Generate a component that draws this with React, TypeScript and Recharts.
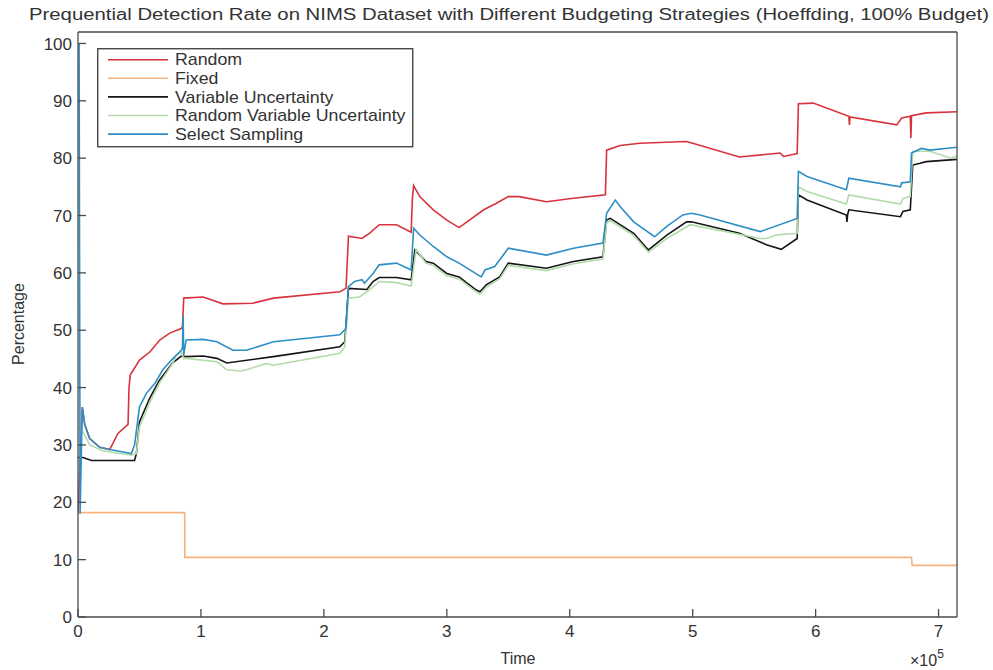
import { LineChart, Line, XAxis, YAxis, Legend, Label } from "recharts";

// time axis (samples) and detection rate (%) for each budgeting strategy
const randomTime = [
  0, 3500, 5500, 9500, 17700, 25800, 32500, 40700, 41500, 42500, 50000, 58400,
  66500, 74600, 84000, 85000, 86000, 101700, 118000, 142000, 159000, 213000,
  218000, 220000, 231000, 237000, 245000, 259000, 271000, 272000, 273000,
  278000, 289000, 300000, 310000, 330000, 340000, 350000, 359000, 381000,
  403000, 429000, 430000, 441000, 457000, 495000, 500000, 538000, 571000,
  574000, 585000, 586000, 598000, 627000, 627500, 628000, 666000, 670000,
  677000, 677500, 678000, 690000, 715000,
];
const randomRate = [
  18, 36.6, 33.5, 31.1, 29.6, 29.2, 32.0, 33.6, 40.0, 42.2, 44.8, 46.2, 48.3,
  49.5, 50.3, 50.6, 55.6, 55.8, 54.6, 54.7, 55.6, 56.7, 57.3, 66.4, 66.0, 66.9,
  68.4, 68.4, 67.1, 73.0, 75.2, 73.3, 71.0, 69.2, 67.9, 71.0, 72.1, 73.3, 73.3,
  72.4, 73.0, 73.6, 81.4, 82.2, 82.6, 82.9, 82.6, 80.2, 80.9, 80.3, 80.8, 89.5,
  89.6, 87.3, 85.8, 87.2, 85.8, 87.0, 87.3, 83.5, 87.4, 87.9, 88.1,
];

const fixedTime = [0, 86800, 86900, 678000, 678500, 715000];
const fixedRate = [18.2, 18.2, 10.4, 10.4, 9.0, 9.0];

const varTime = [
  0, 4000, 11000, 46000, 47500, 50000, 58000, 66000, 77000, 84000, 88000,
  102000, 113000, 121000, 159000, 213000, 217000, 220000, 235000, 240000,
  245000, 259000, 271000, 274000, 283000, 289000, 300000, 310000, 324000,
  327000, 332000, 343000, 350000, 381000, 403000, 427000, 430000, 433000,
  452000, 464000, 479000, 495000, 499000, 538000, 560000, 572000, 585000,
  586000, 593000, 625000, 625500, 626000, 627000, 669000, 671000, 677000,
  679000, 685000, 690000, 715000,
];
const varRate = [
  27.8, 27.8, 27.3, 27.3, 28.5, 34.0, 38.0, 41.2, 44.3, 45.5, 45.4, 45.5, 45.1,
  44.3, 45.4, 47.1, 48.0, 57.3, 57.1, 58.5, 59.2, 59.2, 58.8, 64.0, 62.0, 61.7,
  59.9, 59.3, 57.0, 56.7, 57.9, 59.3, 61.7, 60.8, 62.0, 62.8, 69.2, 69.5, 66.9,
  64.0, 66.6, 68.9, 68.9, 66.9, 64.9, 64.1, 66.0, 73.6, 72.7, 70.1, 68.9, 70.1,
  71.0, 69.8, 70.7, 71.0, 78.8, 79.1, 79.4, 79.8,
];

const randVarTime = [
  0, 4000, 9500, 20000, 43400, 47500, 50000, 58000, 66000, 77000, 80000, 84000,
  86000, 88000, 113000, 121000, 132000, 137000, 153000, 159000, 213000, 217000,
  220000, 229000, 237000, 245000, 259000, 271000, 275000, 283000, 289000,
  300000, 310000, 324000, 327000, 332000, 343000, 350000, 381000, 403000,
  427000, 430000, 433000, 452000, 464000, 479000, 498000, 555000, 560000,
  568000, 585000, 586000, 593000, 625000, 627000, 669000, 671000, 677000,
  679000, 693000, 710000, 715000,
];
const randVarRate = [
  33.0, 32.3, 30.0, 29.0, 28.2, 28.5, 33.2, 37.2, 40.7, 44.2, 45.7, 46.2, 45.0,
  45.1, 44.5, 43.1, 42.9, 43.1, 44.2, 43.9, 46.0, 47.1, 55.6, 55.8, 57.0, 58.5,
  58.3, 57.7, 64.1, 61.7, 61.3, 59.5, 58.9, 56.7, 56.3, 57.5, 59.0, 61.3, 60.4,
  61.6, 62.4, 68.8, 69.1, 66.5, 63.6, 66.0, 68.4, 66.0, 66.0, 66.6, 66.9, 75.0,
  74.2, 72.0, 73.6, 72.0, 73.0, 73.3, 81.2, 81.2, 80.0, 80.4,
];

const selectTime = [
  900, 1700, 3500, 5500, 9500, 17700, 25800, 43400, 46000, 50000, 55600, 62400,
  69000, 76000, 84000, 85000, 85500, 86000, 88000, 102000, 113000, 126000,
  137000, 159000, 213000, 218000, 220000, 225000, 231000, 233000, 240000,
  245000, 259000, 271000, 273000, 278000, 289000, 300000, 310000, 328000,
  331000, 339000, 350000, 381000, 403000, 427000, 430000, 437000, 442000,
  452000, 469000, 479000, 492000, 499000, 506000, 555000, 585000, 586000,
  593000, 625000, 627000, 669000, 670000, 677000, 678000, 686000, 693000,
  715000,
];
const selectRate = [
  100, 18, 36.6, 33.5, 31.1, 29.6, 29.2, 28.5, 30.0, 36.6, 39.0, 40.7, 43.1,
  44.8, 46.5, 47.0, 52.4, 45.7, 48.3, 48.4, 48.0, 46.5, 46.5, 48.0, 49.2, 50.3,
  57.6, 58.5, 58.8, 58.2, 59.9, 61.4, 61.7, 60.5, 67.8, 66.6, 64.6, 62.8, 61.7,
  59.3, 60.5, 61.1, 64.3, 63.1, 64.3, 65.2, 70.4, 72.7, 71.3, 68.9, 66.3, 68.1,
  70.1, 70.4, 70.1, 67.2, 69.5, 77.7, 76.8, 74.5, 76.5, 75.0, 75.7, 75.9, 80.9,
  81.7, 81.4, 81.9,
];

const timeTicks = [0, 100000, 200000, 300000, 400000, 500000, 600000, 700000];
const rateTicks = [0, 10, 20, 30, 40, 50, 60, 70, 80, 90, 100];

const toPoints = (time: number[], rate: number[]) =>
  time.map((t, i) => ({ time: t, rate: rate[i] }));

const series = [
  { name: "Random", color: "#d8333c", data: toPoints(randomTime, randomRate) },
  { name: "Fixed", color: "#f6b27c", data: toPoints(fixedTime, fixedRate) },
  { name: "Variable Uncertainty", color: "#151515", data: toPoints(varTime, varRate) },
  { name: "Random Variable Uncertainty", color: "#b2dbaa", data: toPoints(randVarTime, randVarRate) },
  { name: "Select Sampling", color: "#2e8ec6", data: toPoints(selectTime, selectRate) },
];
const seriesOrder = series.map((s) => s.name);

const FONT = "'Liberation Sans', Arial, Helvetica, sans-serif";
const INK = "#333";
const FRAME = "#4a4a4a";

function LegendBox(props: any) {
  // keep the plotting order rather than the alphabetical one
  const items = [...(props.payload ?? [])].sort(
    (a: any, b: any) => seriesOrder.indexOf(a.value) - seriesOrder.indexOf(b.value)
  );
  return (
    <svg width={318} height={101} style={{ display: "block" }}>
      <rect x={0.75} y={0.75} width={315} height={98} fill="#fff" stroke="#3a3a3a" strokeWidth={1.3} />
      {items.map((it: any, i: number) => (
        <g key={it.value}>
          <line x1={11} x2={71} y1={11.7 + i * 18.6} y2={11.7 + i * 18.6} stroke={it.color} strokeWidth={1.6} />
          <text
            transform={`translate(78 ${17.4 + i * 18.6}) scale(1.11 1)`}
            fontSize={16}
            fontFamily={FONT}
            fill={INK}
          >
            {it.value}
          </text>
        </g>
      ))}
    </svg>
  );
}

export default function App() {
  return (
    <div style={{ position: "absolute", left: 0, top: 0, background: "#fff" }}>
      <LineChart width={993} height={670} margin={{ top: 31, right: 35, bottom: 0, left: 0 }}>
        <XAxis
          dataKey="time"
          type="number"
          domain={[0, 715000]}
          ticks={timeTicks}
          allowDataOverflow
          tickFormatter={(v) => String(v / 100000)}
          height={53}
          tickSize={-8}
          tickMargin={16}
          stroke={FRAME}
          strokeWidth={1.3}
          tick={{ fill: INK, fontSize: 17, fontFamily: FONT }}
        >
          <Label
            content={() => (
              <g fontFamily={FONT} fill={INK}>
                <text x={518} y={664} fontSize={16} textAnchor="middle">
                  Time
                </text>
                <text x={910} y={666} fontSize={16}>
                  ×10
                  <tspan dy={-8} fontSize={12}>
                    5
                  </tspan>
                </text>
                <text
                  x={29}
                  y={20}
                  fontSize={16}
                  textLength={960}
                  lengthAdjust="spacingAndGlyphs"
                >
                  Prequential Detection Rate on NIMS Dataset with Different Budgeting Strategies (Hoeffding, 100% Budget)
                </text>
              </g>
            )}
          />
        </XAxis>
        <XAxis
          xAxisId="top"
          orientation="top"
          dataKey="time"
          type="number"
          domain={[0, 715000]}
          ticks={timeTicks}
          allowDataOverflow
          height={1}
          tick={false}
          tickSize={-8}
          stroke={FRAME}
          strokeWidth={1.3}
        />
        <YAxis
          type="number"
          domain={[0, 102]}
          ticks={rateTicks}
          allowDataOverflow
          width={78}
          tickSize={-8}
          tickMargin={14}
          stroke={FRAME}
          strokeWidth={1.3}
          tick={{ fill: INK, fontSize: 17, fontFamily: FONT }}
        >
          <Label
            content={() => (
              <text
                transform="translate(24 324) rotate(-90)"
                fontSize={16}
                fontFamily={FONT}
                fill={INK}
                textAnchor="middle"
              >
                Percentage
              </text>
            )}
          />
        </YAxis>
        <YAxis
          yAxisId="right"
          orientation="right"
          type="number"
          domain={[0, 102]}
          ticks={rateTicks}
          allowDataOverflow
          width={1}
          tick={false}
          tickSize={-8}
          stroke={FRAME}
          strokeWidth={1.3}
        />
        <Legend
          layout="vertical"
          align="center"
          verticalAlign="middle"
          content={<LegendBox />}
          wrapperStyle={{ left: 97, top: 48, width: 318, height: 101 }}
        />
        {series.map((s) => (
          <Line
            key={s.name}
            name={s.name}
            data={s.data}
            dataKey="rate"
            type="linear"
            stroke={s.color}
            strokeWidth={1.6}
            dot={false}
            activeDot={false}
            isAnimationActive={false}
          />
        ))}
      </LineChart>
    </div>
  );
}
